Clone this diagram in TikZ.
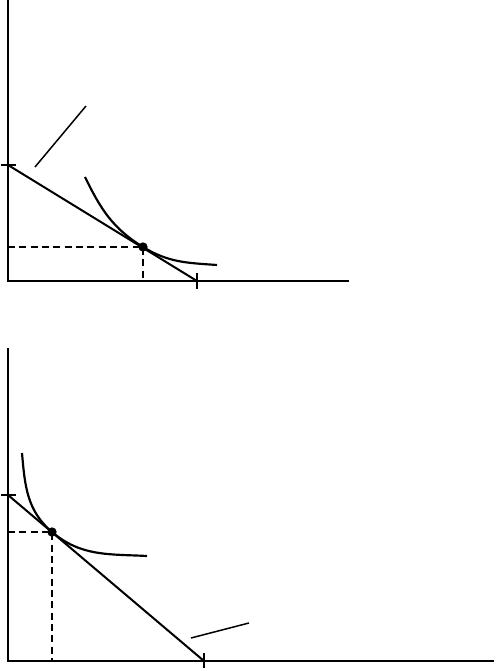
\documentclass[tikz,border=0pt]{standalone}
\usepackage{tikz}
\usetikzlibrary{calc}
\tikzset{
    axisline/.style = {line width=0.8mm, black},
    budget/.style = {line width=0.6mm, black},
    indiff/.style = {line width=0.65mm, black},
    pointer/.style = {line width=0.45mm, black},
    guide/.style = {line width=0.6mm, black, dash pattern=on 2.1mm off 1.3mm},
    tangent/.style = {circle, fill=black, inner sep=0pt, minimum size=2.8mm},
}
\begin{document}
\begin{tikzpicture}[x=0.3mm,y=0.3mm]
        \useasboundingbox (0,0) rectangle (494,669);
        % upper panel
        \coordinate (o1) at (8,388);
        \coordinate (ytop1) at (8,669);
        \coordinate (xend1) at (349,388);
        \coordinate (b1) at (8,504);
        \coordinate (a1) at (197,388);
        \coordinate (e1) at (143,422);
        \draw [axisline] (ytop1) -- (o1) -- (xend1);
        \draw [axisline] ($(b1)+(-7,0)$) -- ($(b1)+(8,0)$);
        \draw [axisline] ($(a1)+(0,8)$) -- ($(a1)+(0,-8)$);
        \draw [budget] (b1) -- (a1);
        \draw [guide] (e1 -| o1) -- (e1) -- (e1 |- o1);
        \draw [indiff] (85,492) to[out=-64,in=148.5] (e1) to[out=-31.5,in=176] (217,404);
        \node [tangent] (pt1) at (e1) {};
        \draw [pointer] (35,502) -- (86,563);
        % lower panel
        \coordinate (o2) at (8,8);
        \coordinate (ytop2) at (8,321);
        \coordinate (xend2) at (494,8);
        \coordinate (b2) at (8,174);
        \coordinate (a2) at (204,8);
        \coordinate (e2) at (52,137);
        \draw [axisline] (ytop2) -- (o2) -- (xend2);
        \draw [axisline] ($(b2)+(-7,0)$) -- ($(b2)+(8,0)$);
        \draw [axisline] ($(a2)+(0,8)$) -- ($(a2)+(0,-7)$);
        \draw [budget] (b2) -- (a2);
        \draw [guide] (e2 -| o2) -- (e2) -- (e2 |- o2);
        \draw [indiff] (22,216) to[out=-85,in=139.7] (e2) to[out=-40.3,in=177] (147,113);
        \node [tangent] (pt2) at (e2) {};
        \draw [pointer] (191,31) -- (249,46);
\end{tikzpicture}
\end{document}
